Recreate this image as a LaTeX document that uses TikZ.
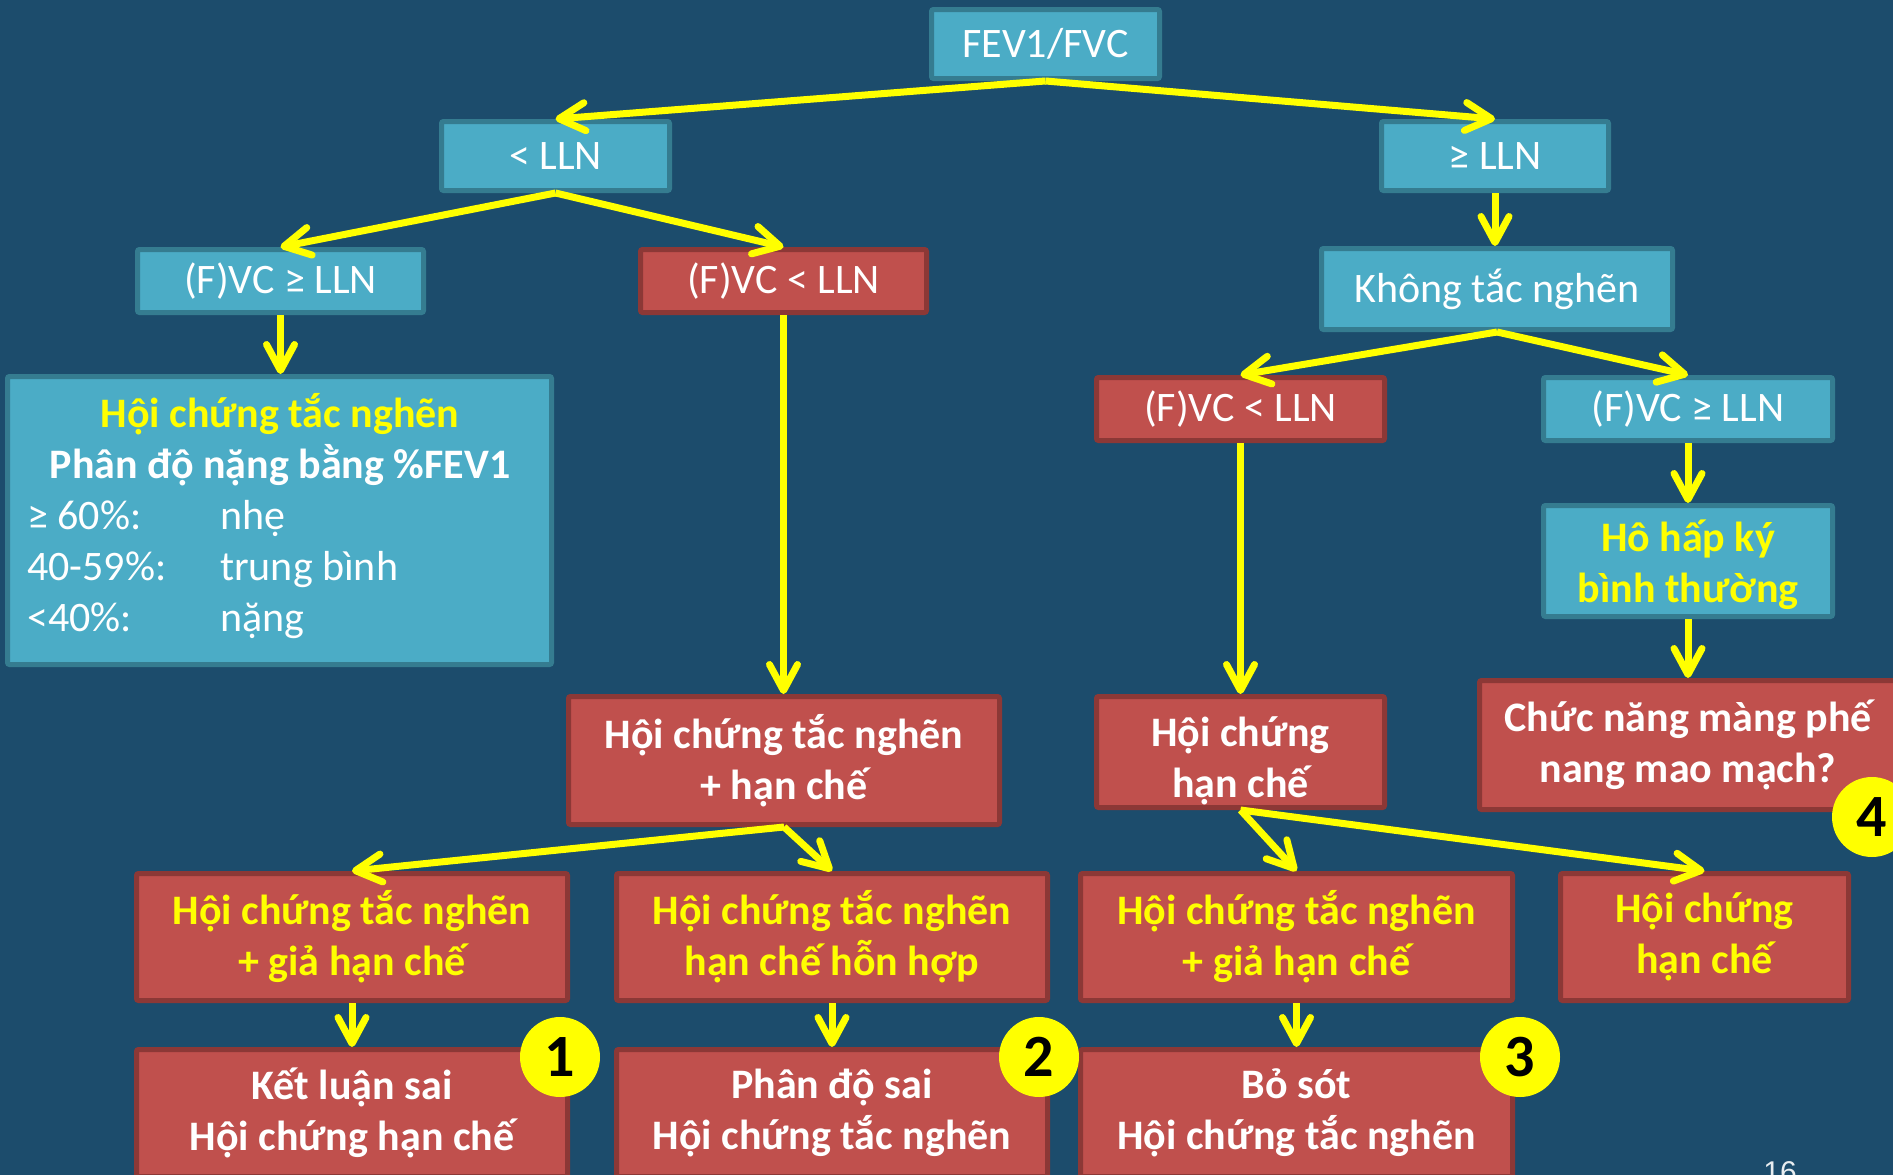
\documentclass[tikz,border=0pt]{standalone}
\usepackage{fontspec}
\setmainfont{Carlito}
\newfontfamily\numfont{Liberation Sans}
\usetikzlibrary{arrows.meta}
\definecolor{bg}{RGB}{28,76,108}
\definecolor{boxblue}{RGB}{75,172,198}
\definecolor{boxblueedge}{RGB}{53,124,144}
\definecolor{boxred}{RGB}{192,80,77}
\definecolor{boxrededge}{RGB}{140,56,54}
\definecolor{hiyellow}{RGB}{255,255,0}
\newcommand\bodyfont{\fontsize{42}{51}\selectfont}
\begin{document}
\begin{tikzpicture}[x=1pt,y=-1pt,
  box/.style={draw, line width=5pt, rounded corners=2pt, inner sep=0pt,
    align=center, text=white, font=\bodyfont},
  bluebox/.style={box, fill=boxblue, draw=boxblueedge},
  redbox/.style={box, fill=boxred, draw=boxrededge},
  heavy/.style={font=\bodyfont\bfseries},
  plain/.style={inner sep=0pt, text=white, font=\bodyfont},
  flow/.style={draw=hiyellow, line width=7pt,
    -{Straight Barb[length=26pt,width=28pt,round]}},
  badge/.style={circle, fill=hiyellow, minimum size=80pt, inner sep=0pt,
    text=black, font=\fontsize{60}{60}\selectfont\bfseries},
]
\fill[bg] (0,0) rectangle (1893,1175);
\useasboundingbox (0,0) rectangle (1893,1175);

% level 0 and 1
\node[bluebox, minimum width=228pt, minimum height=69pt] (fev) at (1045.5,44) {FEV1/FVC};
\node[bluebox, minimum width=228pt, minimum height=69pt] (lt) at (555.5,156) {< LLN};
\node[bluebox, minimum width=227pt, minimum height=69pt] (ge) at (1495,156) {≥ LLN};

% level 2
\node[bluebox, minimum width=286pt, minimum height=63pt] (vcok) at (280.5,281) {(F)VC ≥ LLN};
\node[redbox, minimum width=286pt, minimum height=63pt] (vclow) at (783.5,281) {(F)VC < LLN};
\node[bluebox, minimum width=351pt, minimum height=81pt] (khong) at (1497,289) {Không tắc nghẽn};

% obstruction grading panel
\node[bluebox, minimum width=544pt, minimum height=288pt] (obs) at (279.5,520.5) {};
\node[plain, heavy, text=hiyellow, anchor=base] (obstitle) at (280,427) {Hội chứng tắc nghẽn};
\node[plain, heavy, anchor=base] (obsgrade) at (280,478) {Phân độ nặng bằng \%FEV1};
\node[plain, anchor=base west] (g1a) at (27,529) {≥ 60\%:};
\node[plain, anchor=base west] (g1b) at (220,529) {nhẹ};
\node[plain, anchor=base west] (g2a) at (27,580) {40-59\%:};
\node[plain, anchor=base west] (g2b) at (220,580) {trung bình};
\node[plain, anchor=base west] (g3a) at (27,631) {<40\%:};
\node[plain, anchor=base west] (g3b) at (220,631) {nặng};

% right branch
\node[redbox, minimum width=288pt, minimum height=63pt] (vclow2) at (1240.5,409) {(F)VC < LLN};
\node[bluebox, minimum width=289pt, minimum height=63pt] (vcok2) at (1688,409) {(F)VC ≥ LLN};
\node[bluebox, minimum width=289pt, minimum height=111pt] (normal) at (1688,561) {};
\node[plain, heavy, align=center, text=hiyellow] (normaltext) at (1688,565) {Hô hấp ký\\bình thường};

% level 3
\node[redbox, heavy, minimum width=431pt, minimum height=128pt] (mixed) at (784,760.5) {Hội chứng tắc nghẽn\\+ hạn chế};
\node[redbox, minimum width=288pt, minimum height=111pt] (restr) at (1240.5,752) {};
\node[plain, heavy, align=center] (restrtext) at (1240.5,761) {Hội chứng\\hạn chế};
\node[redbox, heavy, minimum width=417pt, minimum height=129pt] (dlco) at (1688,745) {Chức năng màng phế\\nang mao mạch?};

% level 4
\node[redbox, heavy, text=hiyellow, minimum width=431pt, minimum height=127pt] (pa) at (352,937) {Hội chứng tắc nghẽn\\+ giả hạn chế};
\node[redbox, heavy, text=hiyellow, minimum width=431pt, minimum height=127pt] (pb) at (832,937) {Hội chứng tắc nghẽn\\hạn chế hỗn hợp};
\node[redbox, heavy, text=hiyellow, minimum width=432pt, minimum height=127pt] (pc) at (1296.5,937) {Hội chứng tắc nghẽn\\+ giả hạn chế};
\node[redbox, heavy, text=hiyellow, minimum width=288pt, minimum height=127pt] (pd) at (1704.5,937) {Hội chứng\\hạn chế};

% level 5
\node[redbox, heavy, minimum width=431pt, minimum height=127pt] (ra) at (352,1113) {Kết luận sai\\Hội chứng hạn chế};
\node[redbox, heavy, minimum width=431pt, minimum height=127pt] (rb) at (832,1113) {Phân độ sai\\Hội chứng tắc nghẽn};
\node[redbox, heavy, minimum width=432pt, minimum height=127pt] (rc) at (1296.5,1113) {Bỏ sót\\Hội chứng tắc nghẽn};

% connectors
\draw[flow] (fev.south) -- (lt.north);
\draw[flow] (fev.south) -- (ge.north);
\draw[flow] (lt.south) -- (vcok.north);
\draw[flow] (lt.south) -- (vclow.north);
\draw[flow] (ge.south) -- (ge.south |- khong.north);
\draw[flow] (vcok.south) -- (vcok.south |- obs.north);
\draw[flow] (vclow.south) -- (vclow.south |- mixed.north);
\draw[flow] (khong.south) -- (vclow2.north);
\draw[flow] (khong.south) -- (vcok2.north);
\draw[flow] (vclow2.south) -- (restr.north);
\draw[flow] (vcok2.south) -- (normal.north);
\draw[flow] (normal.south) -- (dlco.north);
\draw[flow] (mixed.south) -- (pa.north);
\draw[flow] (mixed.south) -- (pb.north);
\draw[flow] (restr.south) -- (pc.north);
\draw[flow] (restr.south) -- (pd.north);
\draw[flow] (pa.south) -- (ra.north);
\draw[flow] (pb.south) -- (rb.north);
\draw[flow] (pc.south) -- (rc.north);

% numbered markers
\node[badge] (m1) at (560,1057) {1};
\node[badge] (m2) at (1039,1057) {2};
\node[badge] (m3) at (1520,1057) {3};
\node[badge] (m4) at (1872,817) {4};

% slide number
\node[inner sep=0pt, anchor=base, text=white!90!bg, font=\numfont\fontsize{30}{30}\selectfont] (page) at (1780,1182) {16};
\end{tikzpicture}
\end{document}
